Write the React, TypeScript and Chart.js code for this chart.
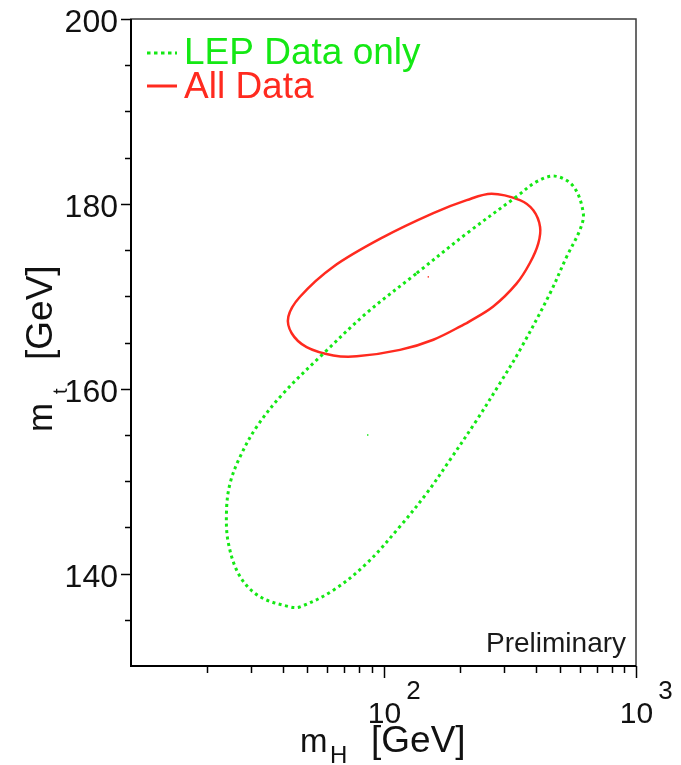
import React, { useEffect, useRef } from "react";
import { Chart, registerables } from "chart.js";

Chart.register(...registerables);

// ---- Data (m_H in GeV, m_t in GeV) ----
// 68% CL contour, all data (closed loop, starts and ends on a smooth stretch)
const ALL_MH = [213.6, 272, 337, 380, 410, 417, 392, 347, 268, 213.6, 157.5, 99.8, 63.3, 46.7, 42.0, 43.3, 49.6, 63.3, 78.3, 116.2, 157.5, 213.6];
const ALL_MT = [167.1, 168.9, 171.4, 173.6, 175.7, 177.5, 179.3, 180.4, 181.1, 180.4, 179.0, 176.4, 173.2, 169.95, 167.8, 166.0, 164.5, 163.6, 163.5, 164.2, 165.3, 167.1];

// 68% CL contour, LEP data only (closed loop)
const LEP_MH = [135.4, 213.6, 337, 404.4, 477.6, 564.8, 618.3, 600, 531.6, 456.3, 347.2, 289.3, 233.9, 183.4, 148.3, 116.2, 85.8, 63.3, 46.7, 42.6, 32.4, 27.0, 24.3, 23.9, 24.7, 27.0, 31.5, 40.1, 57.8, 85.8, 135.4];
const LEP_MT = [172.5, 176.8, 180.8, 182.4, 183.0, 181.9, 179.0, 177.2, 174.3, 170.3, 164.2, 160.6, 156.6, 152.3, 148.7, 145.1, 141.1, 138.2, 136.4, 136.4, 137.5, 139.7, 143.3, 146.9, 149.8, 152.6, 155.9, 159.5, 163.8, 168.2, 172.5];

const ALL_BEST = { mH: 150.5, mt: 172.1 };
const LEP_BEST = { mH: 86.6, mt: 155.0 };

const LEGEND_LABELS = ["LEP Data only", "All Data"];

const X_MIN = 10;
const X_MAX = 1000;
const Y_MIN = 130;
const Y_MAX = 200;

const X_MAJOR = [100, 1000];
const X_MAJOR_BASE = ["10", "10"];
const X_MAJOR_EXP = ["2", "3"];
const X_MINOR = [20, 30, 40, 50, 60, 70, 80, 90, 200, 300, 400, 500, 600, 700, 800, 900];

const Y_MAJOR = [140, 160, 180, 200];
const Y_MAJOR_LABELS = ["140", "160", "180", "200"];
const Y_MINOR = [135, 145, 150, 155, 165, 170, 175, 185, 190, 195];

const GREEN = "#14e814";
const RED = "#ff2a1f";
const FONT = '"Liberation Sans", Arial, Helvetica, sans-serif';

const zip = (xs: number[], ys: number[]) => xs.map((x, i) => ({ x, y: ys[i] }));

const decorPlugin = {
  id: "decor",
  afterDraw(chart: any) {
    const ctx: CanvasRenderingContext2D = chart.ctx;
    const a = chart.chartArea;
    const xs = chart.scales.x;
    const ys = chart.scales.y;
    ctx.save();

    // frame
    ctx.strokeStyle = "#3a3a3a";
    ctx.lineWidth = 1.5;
    ctx.strokeRect(a.left, a.top, a.right - a.left, a.bottom - a.top);
    ctx.strokeStyle = "#000";
    ctx.lineWidth = 2;
    ctx.beginPath();
    ctx.moveTo(a.left, a.top);
    ctx.lineTo(a.left, a.bottom);
    ctx.lineTo(a.right, a.bottom);
    ctx.stroke();

    // y ticks
    ctx.lineWidth = 1.5;
    ctx.strokeStyle = "#000";
    Y_MINOR.forEach((v) => {
      const y = Math.round(ys.getPixelForValue(v)) + 0.5;
      ctx.beginPath();
      ctx.moveTo(a.left - 6, y);
      ctx.lineTo(a.left, y);
      ctx.stroke();
    });
    ctx.fillStyle = "#111";
    ctx.font = `32px ${FONT}`;
    ctx.textAlign = "right";
    ctx.textBaseline = "alphabetic";
    Y_MAJOR.forEach((v, i) => {
      const y = Math.round(ys.getPixelForValue(v)) + 0.5;
      ctx.beginPath();
      ctx.moveTo(a.left - 10, y);
      ctx.lineTo(a.left, y);
      ctx.stroke();
      ctx.fillText(Y_MAJOR_LABELS[i], a.left - 13, y + 12);
    });

    // x ticks
    X_MINOR.forEach((v) => {
      const x = Math.round(xs.getPixelForValue(v)) + 0.5;
      ctx.beginPath();
      ctx.moveTo(x, a.bottom);
      ctx.lineTo(x, a.bottom + 7);
      ctx.stroke();
    });
    X_MAJOR.forEach((v, i) => {
      const x = Math.round(xs.getPixelForValue(v)) + 0.5;
      ctx.beginPath();
      ctx.moveTo(x, a.bottom);
      ctx.lineTo(x, a.bottom + 12);
      ctx.stroke();
      ctx.font = `30px ${FONT}`;
      ctx.textAlign = "center";
      ctx.fillText(X_MAJOR_BASE[i], x, a.bottom + 57);
      const w = ctx.measureText(X_MAJOR_BASE[i]).width;
      ctx.font = `26px ${FONT}`;
      ctx.textAlign = "left";
      ctx.fillText(X_MAJOR_EXP[i], x + w / 2 + 5, a.bottom + 33);
    });

    // x title
    ctx.textAlign = "left";
    ctx.font = `33px ${FONT}`;
    ctx.fillText("m", 300, 752);
    ctx.font = `24px ${FONT}`;
    ctx.fillText("H", 330, 763);
    ctx.font = `37px ${FONT}`;
    ctx.fillText("[GeV]", 371, 752);

    // y title (rotated)
    ctx.save();
    ctx.translate(52, 432);
    ctx.rotate(-Math.PI / 2);
    ctx.font = `35px ${FONT}`;
    ctx.fillText("m", 0, 0);
    ctx.font = `20px ${FONT}`;
    ctx.fillText("t", 38, 15);
    ctx.font = `37px ${FONT}`;
    ctx.fillText("[GeV]", 72, 0);
    ctx.restore();

    // Preliminary
    ctx.font = `28px ${FONT}`;
    ctx.fillStyle = "#1a1a1a";
    ctx.fillText("Preliminary", 486, 652);

    // legend
    ctx.lineWidth = 3;
    ctx.strokeStyle = GREEN;
    ctx.setLineDash([3.5, 3.5]);
    ctx.beginPath();
    ctx.moveTo(147, 53);
    ctx.lineTo(177, 53);
    ctx.stroke();
    ctx.setLineDash([]);
    ctx.strokeStyle = RED;
    ctx.beginPath();
    ctx.moveTo(147, 86);
    ctx.lineTo(177, 86);
    ctx.stroke();
    ctx.font = `37px ${FONT}`;
    ctx.fillStyle = GREEN;
    ctx.fillText(LEGEND_LABELS[0], 184, 64);
    ctx.fillStyle = RED;
    ctx.fillText(LEGEND_LABELS[1], 184, 98);

    ctx.restore();
  },
};

export default function App() {
  const ref = useRef<HTMLCanvasElement | null>(null);
  useEffect(() => {
    if (!ref.current) return;
    const chart = new Chart(ref.current, {
      type: "scatter",
      data: {
        datasets: [
          {
            label: LEGEND_LABELS[0],
            data: zip(LEP_MH, LEP_MT),
            showLine: true,
            borderColor: GREEN,
            borderWidth: 3,
            borderDash: [3, 3.5],
            tension: 0.35,
            pointRadius: 0,
            fill: false,
          },
          {
            label: LEGEND_LABELS[1],
            data: zip(ALL_MH, ALL_MT),
            showLine: true,
            borderColor: RED,
            borderWidth: 2.5,
            tension: 0.35,
            pointRadius: 0,
            fill: false,
          },
          {
            label: "LEP best fit",
            data: [{ x: LEP_BEST.mH, y: LEP_BEST.mt }],
            pointRadius: 1,
            pointStyle: "rect",
            backgroundColor: GREEN,
            borderColor: GREEN,
            borderWidth: 0,
          },
          {
            label: "All best fit",
            data: [{ x: ALL_BEST.mH, y: ALL_BEST.mt }],
            pointRadius: 1,
            pointStyle: "rect",
            backgroundColor: RED,
            borderColor: RED,
            borderWidth: 0,
          },
        ],
      },
      options: {
        animation: false,
        responsive: false,
        maintainAspectRatio: false,
        layout: { padding: { left: 131, right: 45, top: 19, bottom: 99 } },
        plugins: { legend: { display: false }, tooltip: { enabled: false } },
        scales: {
          x: { type: "logarithmic", min: X_MIN, max: X_MAX, display: false },
          y: { type: "linear", min: Y_MIN, max: Y_MAX, display: false },
        },
      },
      plugins: [decorPlugin],
    });
    return () => chart.destroy();
  }, []);
  return (
    <div style={{ position: "absolute", left: 0, top: 0, width: 681, height: 765, background: "#fff" }}>
      <canvas ref={ref} width={681} height={765} style={{ display: "block" }} />
    </div>
  );
}
